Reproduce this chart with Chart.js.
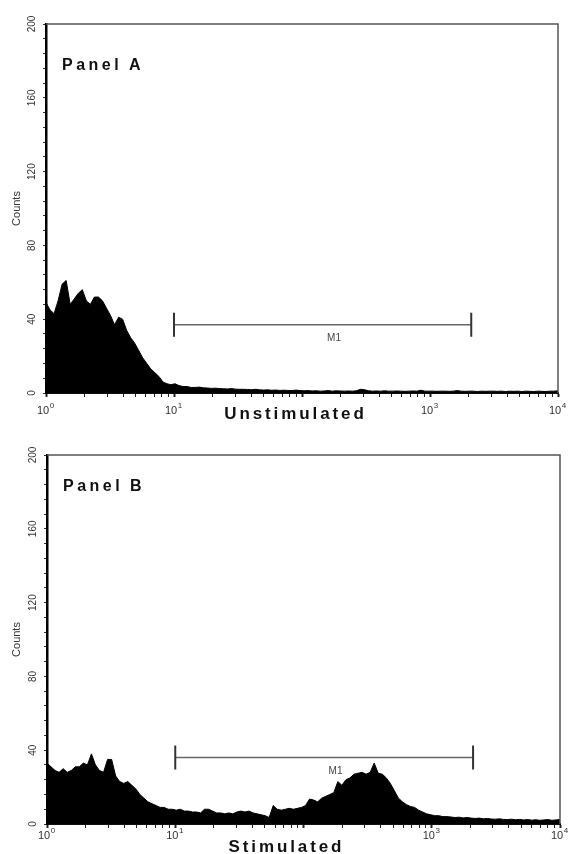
<!DOCTYPE html>
<html>
<head>
<meta charset="utf-8">
<title>Panel A / Panel B - Counts</title>
<script src="https://cdn.jsdelivr.net/npm/chart.js@4.4.0/dist/chart.umd.min.js"></script>
<style>
  html, body { margin: 0; padding: 0; background: #fff; }
  body { width: 571px; height: 854px; position: relative; overflow: hidden; }
  .panel { position: absolute; left: 0; width: 571px; height: 427px; }
  #panelA { top: 0; }
  #panelB { top: 427px; }
</style>
</head>
<body>
<div class="panel" id="panelA"><canvas id="chartA" width="571" height="427"></canvas></div>
<div class="panel" id="panelB"><canvas id="chartB" width="571" height="427"></canvas></div>
<script>
// x axis: log10 decades 10^0 .. 10^4 (10^2 label sits under the axis title)
const decadeMin = 0;
const decadeMax = 4;
const xTickExponents = [0, 1, 3, 4];
const yTickLabels = [0, 40, 80, 120, 160, 200];

// M1 gate (fluorescence range) and the count level it is drawn at
const gateM1 = [10, 2100];
const gateLevelA = 37;
const gateLevelB = 36;
const gateTick = 6.5;

// Panel A - unstimulated, 32 channels per decade
const countsA = [
  49, 45, 43, 50, 59, 61, 48, 51, 54, 56, 50, 48, 52, 52, 50, 46,
  42, 37, 41, 40, 34, 30, 27, 23, 19, 16, 13, 11, 9, 6, 5, 4.5,
  5, 4, 3.5, 3.5, 3, 3, 3.2, 2.8, 2.7, 2.5, 2.6, 2.4, 2.3, 2.2, 2.4, 2.1,
  2, 2, 1.9, 1.8, 2, 1.7, 1.6, 1.7, 1.5, 1.6, 1.4, 1.5, 1.4, 1.3, 1.6, 1.3,
  1.2, 1.3, 1.1, 1.2, 1, 1.1, 1.3, 1, 1.2, 1.1, 1, 1.1, 1, 1.2, 2, 1.8,
  1.2, 1, 1.1, 1, 1.2, 1, 1, 1.1, 1, 0.9, 1, 1.1, 1, 1.5, 1, 1,
  1, 0.9, 1, 1, 0.9, 1, 1.3, 1, 0.9, 1, 1, 0.8, 1, 0.9, 1, 1,
  0.9, 1, 0.8, 1, 0.9, 1, 0.8, 1, 0.9, 0.8, 1, 0.9, 0.8, 1, 1, 1.2
];

// Panel B - stimulated
const countsB = [
  33, 31, 29, 28, 30, 28, 29, 31, 31, 33, 32, 38, 32, 29, 28, 35,
  35, 26, 23, 22, 23, 21, 19, 16, 14, 12, 11, 10, 9, 9, 8, 8,
  7.5, 8, 7, 7, 6.5, 6.5, 6, 8, 8, 7, 6, 6, 5.5, 6, 5.5, 6.5,
  7, 6.5, 7, 6, 5.5, 5, 4.5, 3.5, 10, 8, 7.5, 8, 8.5, 8, 8.5, 9,
  10, 13.5, 13, 12, 14, 15, 16, 17, 23, 21, 24, 25, 27, 27.5, 28, 27,
  28, 33, 27.5, 27, 25, 22, 18, 14, 12, 10.5, 9.5, 9, 7.5, 6.5, 5.5, 5,
  4.5, 4.5, 4, 4, 3.8, 3.5, 3.7, 3.3, 3.5, 3.2, 3, 3.2, 2.8, 3, 2.7, 2.6,
  2.8, 2.5, 2.4, 2.6, 2.3, 2.5, 2.2, 2.4, 2.1, 2.3, 2, 2.2, 2.4, 2, 2.2, 2.5
];

const FONT = '"Liberation Sans", Arial, Helvetica, sans-serif';

// channels spread evenly over the 4 decades
function toPoints(counts) {
  const n = counts.length;
  return counts.map((v, i) => ({ x: decadeMin + i * (decadeMax - decadeMin) / (n - 1), y: v }));
}

// log ticks: majors at decades, minors at 2..9
function logTicks(scale) {
  const ticks = [];
  for (let d = decadeMin; d < decadeMax; d++) {
    for (let k = 1; k <= 9; k++) ticks.push({ value: d + Math.log10(k) });
  }
  ticks.push({ value: decadeMax });
  scale.ticks = ticks;
}

function drawSpaced(ctx, text, x, y, spacing) {
  // manual letter spacing so it does not depend on ctx.letterSpacing
  let total = 0;
  const widths = [];
  for (const ch of text) { const w = ctx.measureText(ch).width; widths.push(w); total += w; }
  total += spacing * (text.length - 1);
  let cx = x - total / 2;
  ctx.textAlign = 'left';
  [...text].forEach((ch, i) => { ctx.fillText(ch, cx, y); cx += widths[i] + spacing; });
}

const panelDecor = {
  id: 'panelDecor',
  afterDraw(chart, args, o) {
    const ctx = chart.ctx;
    const a = chart.chartArea;
    const xs = chart.scales.x;
    const ys = chart.scales.y;
    ctx.save();

    // top and right frame
    ctx.strokeStyle = '#555';
    ctx.lineWidth = 1.5;
    ctx.beginPath();
    ctx.moveTo(a.left, a.top);
    ctx.lineTo(a.right, a.top);
    ctx.lineTo(a.right, a.bottom);
    ctx.stroke();

    // y tick labels, rotated
    ctx.fillStyle = '#333';
    ctx.font = '10px ' + FONT;
    ctx.textAlign = 'center';
    ctx.textBaseline = 'middle';
    yTickLabels.forEach(v => {
      ctx.save();
      ctx.translate(a.left - 14, ys.getPixelForValue(v));
      ctx.rotate(-Math.PI / 2);
      ctx.fillText(String(v), 0, 0);
      ctx.restore();
    });

    // y axis title
    ctx.save();
    ctx.translate(17, (a.top + a.bottom) / 2);
    ctx.rotate(-Math.PI / 2);
    ctx.font = '11px ' + FONT;
    ctx.fillText('Counts', 0, 0);
    ctx.restore();

    // x tick labels 10^n
    ctx.textBaseline = 'alphabetic';
    ctx.textAlign = 'left';
    xTickExponents.forEach(e => {
      const x = xs.getPixelForValue(e);
      const by = a.bottom + o.tickBaseline;
      ctx.font = '11px ' + FONT;
      const w = ctx.measureText('10').width;
      ctx.fillText('10', x - 9, by);
      ctx.font = '8px ' + FONT;
      ctx.fillText(String(e), x - 9 + w + 0.5, by - 6);
    });

    // x axis title
    ctx.fillStyle = '#111';
    ctx.font = 'bold 17px ' + FONT;
    drawSpaced(ctx, o.xTitle, o.titleX, a.bottom + o.titleBaseline, 2.9);

    // panel label
    ctx.font = 'bold 16px ' + FONT;
    ctx.textAlign = 'left';
    let px = a.left + 16;
    for (const ch of 'Panel') { ctx.fillText(ch, px, a.top + o.labelBaseline); px += ctx.measureText(ch).width + 3.5; }
    ctx.fillText(o.letter, a.left + 83, a.top + o.labelBaseline);

    // M1 gate marker
    const x1 = xs.getPixelForValue(Math.log10(gateM1[0]));
    const x2 = xs.getPixelForValue(Math.log10(gateM1[1]));
    const gy = ys.getPixelForValue(o.gateLevel);
    const gyTop = ys.getPixelForValue(o.gateLevel + gateTick);
    const gyBot = ys.getPixelForValue(o.gateLevel - gateTick);
    ctx.strokeStyle = '#666';
    ctx.lineWidth = 1.5;
    ctx.beginPath();
    ctx.moveTo(x1, gy);
    ctx.lineTo(x2, gy);
    ctx.stroke();
    ctx.strokeStyle = '#333';
    ctx.lineWidth = 2;
    ctx.beginPath();
    ctx.moveTo(x1, gyTop); ctx.lineTo(x1, gyBot);
    ctx.moveTo(x2, gyTop); ctx.lineTo(x2, gyBot);
    ctx.stroke();
    ctx.fillStyle = '#444';
    ctx.font = '10px ' + FONT;
    ctx.textAlign = 'center';
    ctx.textBaseline = 'middle';
    ctx.fillText('M1', xs.getPixelForValue(2.25), gy + 14);

    ctx.restore();
  }
};

function makeChart(id, counts, o) {
  return new Chart(document.getElementById(id), {
    type: 'line',
    data: {
      datasets: [{
        data: toPoints(counts),
        fill: 'origin',
        backgroundColor: '#000',
        borderColor: '#000',
        borderWidth: 1,
        pointRadius: 0,
        tension: 0
      }]
    },
    options: {
      responsive: false,
      animation: false,
      layout: { padding: { top: o.padTop, right: o.padRight, bottom: 0, left: 0 } },
      plugins: {
        legend: { display: false },
        tooltip: { enabled: false },
        panelDecor: o
      },
      scales: {
        x: {
          type: 'linear',
          min: decadeMin,
          max: decadeMax,
          afterBuildTicks: logTicks,
          afterFit: s => { s.height = o.xHeight; },
          ticks: { display: false, autoSkip: false },
          grid: {
            drawOnChartArea: false,
            tickLength: 4,
            color: '#222',
            tickWidth: c => (c.tick && Number.isInteger(c.tick.value)) ? 2 : 1
          },
          border: { color: '#111', width: 2 }
        },
        y: {
          min: 0,
          max: 200,
          afterFit: s => { s.width = o.yWidth; },
          ticks: { display: false, stepSize: 8 },
          grid: { drawOnChartArea: false, tickLength: 3, color: '#333' },
          border: { color: '#000', width: 2.5 }
        }
      }
    },
    plugins: [panelDecor]
  });
}

makeChart('chartA', countsA, {
  padTop: 24, padRight: 13, yWidth: 46, xHeight: 34,
  xTitle: 'Unstimulated', titleX: 294, titleBaseline: 26, tickBaseline: 21,
  letter: 'A', labelBaseline: 46, gateLevel: gateLevelA
});

makeChart('chartB', countsB, {
  padTop: 28, padRight: 11, yWidth: 47, xHeight: 30,
  xTitle: 'Stimulated', titleX: 285, titleBaseline: 28, tickBaseline: 15,
  letter: 'B', labelBaseline: 36, gateLevel: gateLevelB
});
</script>
</body>
</html>
